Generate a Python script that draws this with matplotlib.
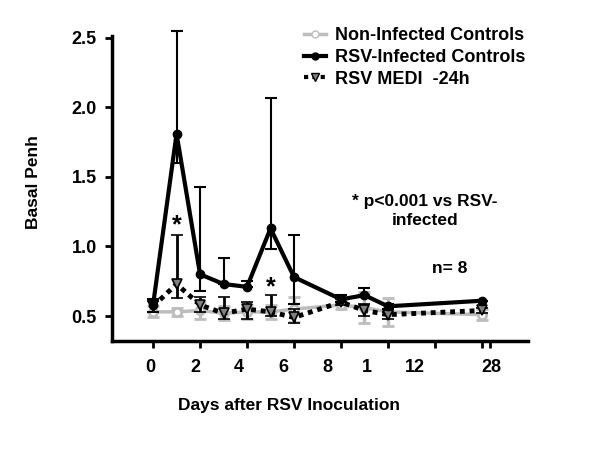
import numpy as np
import matplotlib
matplotlib.use("Agg")
from matplotlib import pyplot as plt
from matplotlib.lines import Line2D

plt.rcParams['font.family'] = ['Liberation Sans', 'DejaVu Sans']
plt.rcParams['font.weight'] = 'bold'
plt.rcParams['axes.labelweight'] = 'bold'

# x positions of the sampling days on the (non-linear) axis
pos = [0, 1, 2, 3, 4, 5, 6, 8, 9, 10, 14]

ctrl = [0.53, 0.53, 0.54, 0.52, 0.53, 0.53, 0.55, 0.58, 0.56, 0.53, 0.51]
ctrl_err = [0.04, 0.03, 0.06, 0.05, 0.05, 0.05, 0.09, 0.03, 0.11, 0.10, 0.04]

rsv = [0.58, 1.81, 0.80, 0.73, 0.71, 1.13, 0.78, 0.62, 0.65, 0.57, 0.61]
rsv_up = [0.04, 0.74, 0.63, 0.19, 0.04, 0.94, 0.30, 0.03, 0.05, 0.02, 0.0]
rsv_lo = [0.05, 0.21, 0.12, 0.0, 0.0, 0.15, 0.19, 0.02, 0.0, 0.02, 0.0]

medi = [0.57, 0.73, 0.58, 0.52, 0.55, 0.53, 0.49, 0.60, 0.54, 0.51, 0.54]
medi_up = [0.04, 0.35, 0.06, 0.12, 0.05, 0.12, 0.06, 0.02, 0.05, 0.02, 0.02]
medi_lo = [0.04, 0.10, 0.05, 0.04, 0.07, 0.03, 0.04, 0.02, 0.04, 0.03, 0.02]

tick_marks = [0, 2, 4, 6, 8, 10, 12, 14, 14.35]
label_pos = [-0.13, 1.79, 3.66, 5.53, 7.40, 9.1, 11.15, 14.4]
label_txt = ['0', '2', '4', '6', '8', '1', '12', '28']
yticks = [0.5, 1.0, 1.5, 2.0, 2.5]

fig = plt.figure(figsize=(6, 4.5), dpi=100)
ax = fig.add_axes([0.187, 0.242, 0.693, 0.705])

gray = '#bdbdbd'
ax.errorbar(pos, ctrl, yerr=ctrl_err, color=gray, lw=2.5, marker='o', ms=6,
            mfc='white', mec=gray, mew=2, ecolor=gray, elinewidth=2.5,
            capsize=4, capthick=2.5, zorder=2)
ax.errorbar(pos, medi, yerr=[medi_lo, medi_up], color='black', lw=3.5,
            ls=(0, (1, 1)), marker='v', ms=7, mfc='#808080', mec='black',
            mew=1.2, ecolor='black', elinewidth=2, capsize=4, capthick=2,
            zorder=3)
ax.errorbar(pos, rsv, yerr=[rsv_lo, rsv_up], color='black', lw=3, marker='o',
            ms=6, ecolor='black', elinewidth=1.5, capsize=4, capthick=1.5,
            zorder=4)

ax.text(1.0, 1.15, '*', ha='center', va='center', fontsize=18)
ax.text(5.0, 0.71, '*', ha='center', va='center', fontsize=18)

ax.set_xlim(-1.74, 15.96)
ax.set_ylim(0.32, 2.6)
ax.spines['top'].set_visible(False)
ax.spines['right'].set_visible(False)
ax.spines['left'].set_linewidth(2.5)
ax.spines['bottom'].set_linewidth(2.5)
ax.spines['left'].set_bounds(0.32, 2.51)

ax.set_yticks(yticks)
ax.set_yticklabels([f'{v:.1f}' for v in yticks])
ax.tick_params(axis='y', length=5, width=2, labelsize=13, pad=6)

ax.set_xticks(label_pos)
ax.set_xticklabels(label_txt)
ax.set_xticks(tick_marks, minor=True)
ax.tick_params(axis='x', which='major', length=0, labelsize=13, pad=13)
ax.tick_params(axis='x', which='minor', length=5, width=2)

ax.set_ylabel('Basal Penh', fontsize=12.5, labelpad=22)
ax.set_xlabel('Days after RSV Inoculation', fontsize=12.5)
ax.xaxis.set_label_coords(0.425, -0.178)

handles = [
    Line2D([], [], color=gray, lw=2.5, marker='o', ms=5, mfc='white', mec=gray),
    Line2D([], [], color='black', lw=3, marker='o', ms=5),
    Line2D([], [], color='black', lw=3, ls=(0, (1, 1)), marker='v', ms=6,
           mfc='#808080', mec='black'),
]
fig.legend(handles, ['Non-Infected Controls', 'RSV-Infected Controls',
                     'RSV MEDI  -24h'],
           loc='upper left', bbox_to_anchor=(0.495, 0.955), frameon=False,
           fontsize=13, handlelength=1.2, handletextpad=0.5,
           labelspacing=0.25, borderaxespad=0)

fig.text(0.708, 0.531, '* p<0.001 vs RSV-\ninfected', ha='center',
         va='center', fontsize=12.5, linespacing=1.35)
fig.text(0.75, 0.404, 'n= 8', ha='center', va='center', fontsize=12.5)

fig.savefig('out.png', dpi=100)
